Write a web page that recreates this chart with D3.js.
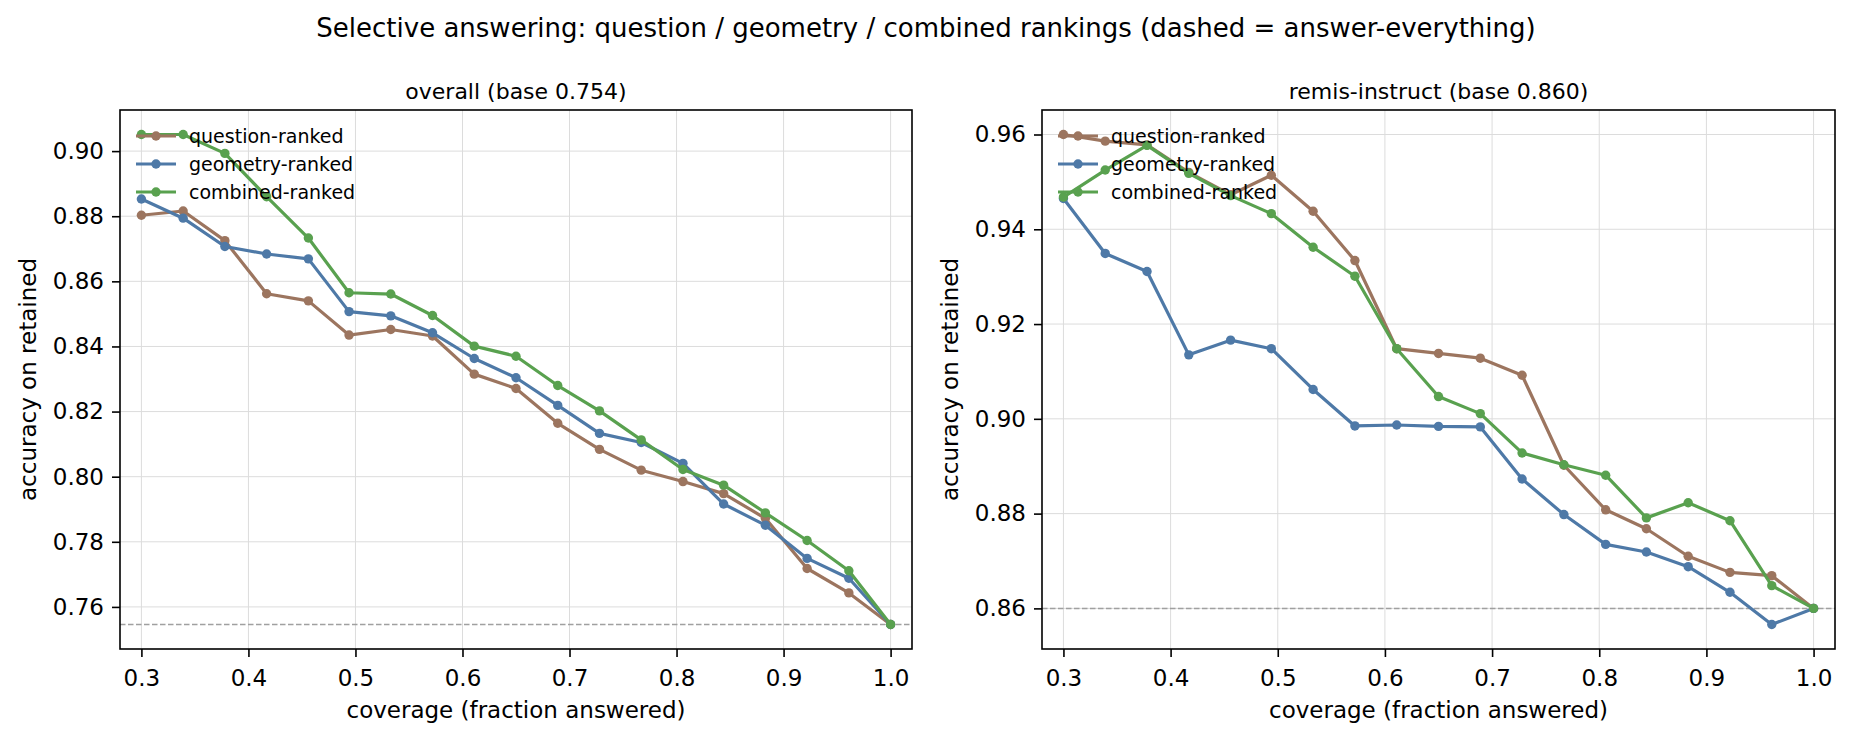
<!DOCTYPE html>
<html>
<head>
<meta charset="utf-8">
<script src="https://cdn.jsdelivr.net/npm/d3@7/dist/d3.min.js"></script>
<style>
  body { margin: 0; background: #fff; }
  svg text { font-family: "DejaVu Sans", sans-serif; fill: #000; }
</style>
</head>
<body>
<div id="chart"></div>
<script>
// coverage levels (fraction answered)
const coverage = [0.300, 0.339, 0.378, 0.417, 0.456, 0.494, 0.533, 0.572, 0.611, 0.650,
  0.689, 0.728, 0.767, 0.806, 0.844, 0.883, 0.922, 0.961, 1.000]

const seriesNames = ['question-ranked', 'geometry-ranked', 'combined-ranked']
const seriesColors = ['#9c755f', '#4e79a7', '#59a14f']

// overall
const overallQuestion = [0.8803, 0.8816, 0.8725, 0.8562, 0.8540, 0.8435, 0.8452, 0.8432, 0.8315, 0.8271,
  0.8164, 0.8084, 0.8020, 0.7985, 0.7948, 0.7872, 0.7718, 0.7643, 0.7546]
const overallGeometry = [0.8853, 0.8794, 0.8707, 0.8684, 0.8669, 0.8507, 0.8494, 0.8442, 0.8363, 0.8304,
  0.8219, 0.8133, 0.8105, 0.8041, 0.7916, 0.7851, 0.7749, 0.7688, 0.7546]
const overallCombined = [0.9051, 0.9051, 0.8993, 0.8860, 0.8733, 0.8565, 0.8561, 0.8495, 0.8401, 0.8370,
  0.8280, 0.8202, 0.8113, 0.8022, 0.7974, 0.7889, 0.7804, 0.7711, 0.7546]
const overallBase = 0.7546

// remis-instruct
const remisQuestion = [0.9600, 0.9586, 0.9578, 0.9520, 0.9473, 0.9514, 0.9438, 0.9334, 0.9148, 0.9138,
  0.9128, 0.9092, 0.8902, 0.8808, 0.8768, 0.8710, 0.8676, 0.8669, 0.8600]
const remisGeometry = [0.9465, 0.9349, 0.9311, 0.9135, 0.9166, 0.9148, 0.9062, 0.8985, 0.8987, 0.8984,
  0.8983, 0.8873, 0.8798, 0.8735, 0.8719, 0.8688, 0.8634, 0.8566, 0.8600]
const remisCombined = [0.9468, 0.9525, 0.9577, 0.9518, 0.9471, 0.9433, 0.9362, 0.9301, 0.9148, 0.9047,
  0.9011, 0.8928, 0.8903, 0.8881, 0.8791, 0.8823, 0.8785, 0.8648, 0.8600]
const remisBase = 0.8600

const xTicks = [0.3, 0.4, 0.5, 0.6, 0.7, 0.8, 0.9, 1.0]
const overallYTicks = [0.76, 0.78, 0.80, 0.82, 0.84, 0.86, 0.88, 0.90]
const remisYTicks = [0.86, 0.88, 0.90, 0.92, 0.94, 0.96]

const width = 1852
const height = 741

const svg = d3.select('#chart')
  .append('svg')
  .attr('width', width)
  .attr('height', height)

svg.append('text')
  .attr('x', 926)
  .attr('y', 37)
  .attr('text-anchor', 'middle')
  .style('font-size', '26px')
  .text('Selective answering: question / geometry / combined rankings (dashed = answer-everything)')

const drawPanel = (opt) => {
  const { left, right, top, bottom, title, series, base, yTicks } = opt

  const allValues = series.flat()
  const [lo, hi] = d3.extent(allValues)
  const pad = (hi - lo) * 0.05

  const scaleX = d3.scaleLinear().domain([0.28, 1.02]).range([left, right])
  const scaleY = d3.scaleLinear().domain([lo - pad, hi + pad]).range([bottom, top])

  const g = svg.append('g')

  // grid
  g.append('g')
    .selectAll('line')
    .data(xTicks)
    .join('line')
    .attr('x1', (d) => scaleX(d))
    .attr('x2', (d) => scaleX(d))
    .attr('y1', top)
    .attr('y2', bottom)
    .attr('stroke', '#dcdcdc')
    .attr('stroke-width', 1)
  g.append('g')
    .selectAll('line')
    .data(yTicks)
    .join('line')
    .attr('x1', left)
    .attr('x2', right)
    .attr('y1', (d) => scaleY(d))
    .attr('y2', (d) => scaleY(d))
    .attr('stroke', '#dcdcdc')
    .attr('stroke-width', 1)

  // answer-everything baseline
  g.append('line')
    .attr('x1', left)
    .attr('x2', right)
    .attr('y1', scaleY(base))
    .attr('y2', scaleY(base))
    .attr('stroke', '#a0a0a0')
    .attr('stroke-width', 1.5)
    .attr('stroke-dasharray', '5.5,2.5')

  const line = d3.line()
    .x((d, i) => scaleX(coverage[i]))
    .y((d) => scaleY(d))

  series.forEach((values, k) => {
    g.append('path')
      .attr('d', line(values))
      .attr('fill', 'none')
      .attr('stroke', seriesColors[k])
      .attr('stroke-width', 3.2)
      .attr('stroke-linejoin', 'round')
    g.append('g')
      .selectAll('circle')
      .data(values)
      .join('circle')
      .attr('cx', (d, i) => scaleX(coverage[i]))
      .attr('cy', (d) => scaleY(d))
      .attr('r', 4.7)
      .attr('fill', seriesColors[k])
  })

  // axes
  const axisX = d3.axisBottom(scaleX).tickValues(xTicks).tickFormat(d3.format('.1f')).tickSize(8).tickPadding(12)
  const axisY = d3.axisLeft(scaleY).tickValues(yTicks).tickFormat(d3.format('.2f')).tickSize(8).tickPadding(8)

  const ax = g.append('g')
    .attr('transform', `translate(0, ${bottom})`)
    .call(axisX)
  const ay = g.append('g')
    .attr('transform', `translate(${left}, 0)`)
    .call(axisY)
  for (const a of [ax, ay]) {
    a.select('.domain').remove()
    a.selectAll('line').attr('stroke', '#000').attr('stroke-width', 1.6)
    a.selectAll('text').style('font-size', '23px').attr('font-family', null)
  }
  ax.selectAll('text').attr('dy', null).attr('dominant-baseline', 'hanging')

  g.append('rect')
    .attr('x', left)
    .attr('y', top)
    .attr('width', right - left)
    .attr('height', bottom - top)
    .attr('fill', 'none')
    .attr('stroke', '#000')
    .attr('stroke-width', 1.6)

  g.append('text')
    .attr('x', (left + right) / 2)
    .attr('y', top - 11)
    .attr('text-anchor', 'middle')
    .style('font-size', '22px')
    .text(title)

  g.append('text')
    .attr('x', (left + right) / 2)
    .attr('y', 718)
    .attr('text-anchor', 'middle')
    .style('font-size', '23px')
    .text('coverage (fraction answered)')

  g.append('text')
    .attr('transform', `translate(${left - 84}, ${(top + bottom) / 2}) rotate(-90)`)
    .attr('text-anchor', 'middle')
    .style('font-size', '23px')
    .text('accuracy on retained')

  // legend
  const legend = g.append('g')
  seriesNames.forEach((name, k) => {
    const y = top + 26 + k * 28
    legend.append('line')
      .attr('x1', left + 16)
      .attr('x2', left + 56)
      .attr('y1', y)
      .attr('y2', y)
      .attr('stroke', seriesColors[k])
      .attr('stroke-width', 3.2)
    legend.append('circle')
      .attr('cx', left + 36)
      .attr('cy', y)
      .attr('r', 4.7)
      .attr('fill', seriesColors[k])
    legend.append('text')
      .attr('x', left + 69)
      .attr('y', y)
      .attr('dy', '0.35em')
      .style('font-size', '19px')
      .text(name)
  })
}

drawPanel({
  left: 120,
  right: 912,
  top: 110,
  bottom: 649,
  title: 'overall (base 0.754)',
  series: [overallQuestion, overallGeometry, overallCombined],
  base: overallBase,
  yTicks: overallYTicks
})

drawPanel({
  left: 1042,
  right: 1835,
  top: 110,
  bottom: 649,
  title: 'remis-instruct (base 0.860)',
  series: [remisQuestion, remisGeometry, remisCombined],
  base: remisBase,
  yTicks: remisYTicks
})
</script>
</body>
</html>
